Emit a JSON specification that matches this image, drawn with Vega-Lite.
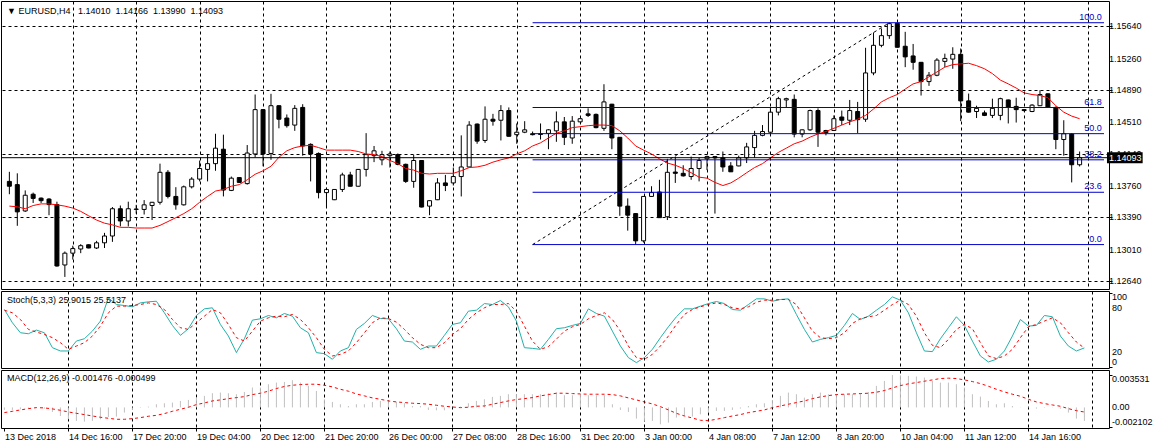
{
"$schema":"https://vega.github.io/schema/vega-lite/v6.json",
"padding":0,
"background":"#ffffff",
"spacing":2,
"bounds":"flush",
"config":{"view":{"stroke":"#000000","strokeWidth":1},"font":"Liberation Sans","axis":{"labelFont":"Liberation Sans","labelFontSize":9,"labelColor":"#000000","tickColor":"#000000","domain":false},"text":{"font":"Liberation Sans","fontSize":9},"title":{"font":"Liberation Sans","fontSize":9,"fontWeight":"normal","color":"#000000","anchor":"start","frame":"group"}},
"datasets":{
"fib":[{"level":"100.0","p":1.15682},{"level":"61.8","p":1.14684},{"level":"50.0","p":1.14376},{"level":"38.2","p":1.14068},{"level":"23.6","p":1.13686},{"level":"0.0","p":1.13070}],
"trend":[{"i":66,"p":1.13070},{"i":111,"p":1.15682}],
"last":[{"p":1.14093}],
"pricelab":[{"v":1.1264},{"v":1.1301},{"v":1.1339},{"v":1.1376},{"v":1.1414},{"v":1.1451},{"v":1.1489},{"v":1.1526},{"v":1.1564}],
"stochlab":[{"v":0},{"v":20},{"v":80},{"v":100}],
"macdlab":[{"v":-0.002102,"t":"-0.002102"},{"v":0,"t":"0.00"},{"v":0.003531,"t":"0.003531"}],
"bars":[
{"i":0,"o":1.13814,"h":1.13927,"l":1.13663,"c":1.13757,"ma":1.13523,"k":77.3,"d":76.4,"m":-0.00027,"s":-0.00056},
{"i":1,"o":1.13776,"h":1.13909,"l":1.13291,"c":1.13455,"ma":1.13515,"k":59.6,"d":72.9,"m":-0.00027,"s":-0.00042},
{"i":2,"o":1.13466,"h":1.13708,"l":1.13455,"c":1.13651,"ma":1.13492,"k":46.2,"d":64.0,"m":-0.00020,"s":-0.00027},
{"i":3,"o":1.13663,"h":1.13682,"l":1.13560,"c":1.13614,"ma":1.13530,"k":44.9,"d":50.7,"m":-0.00013,"s":-0.00013},
{"i":4,"o":1.13617,"h":1.13625,"l":1.13560,"c":1.13587,"ma":1.13549,"k":49.8,"d":47.1,"m":-0.00005,"s":-0.00002},
{"i":5,"o":1.13606,"h":1.13617,"l":1.13416,"c":1.13541,"ma":1.13549,"k":46.2,"d":44.0,"m":-0.00013,"s":-0.00005},
{"i":6,"o":1.13541,"h":1.13575,"l":1.12810,"c":1.12818,"ma":1.13538,"k":26.2,"d":39.6,"m":-0.00049,"s":-0.00016},
{"i":7,"o":1.12830,"h":1.12989,"l":1.12689,"c":1.12969,"ma":1.13523,"k":21.8,"d":32.9,"m":-0.00093,"s":-0.00031},
{"i":8,"o":1.12969,"h":1.13057,"l":1.12893,"c":1.13023,"ma":1.13500,"k":21.8,"d":24.0,"m":-0.00129,"s":-0.00049},
{"i":9,"o":1.13018,"h":1.13075,"l":1.12969,"c":1.13057,"ma":1.13461,"k":35.1,"d":28.4,"m":-0.00147,"s":-0.00064},
{"i":10,"o":1.13068,"h":1.13072,"l":1.13026,"c":1.13030,"ma":1.13409,"k":38.2,"d":32.9,"m":-0.00155,"s":-0.00078},
{"i":11,"o":1.13030,"h":1.13114,"l":1.13018,"c":1.13091,"ma":1.13359,"k":48.4,"d":41.8,"m":-0.00147,"s":-0.00093},
{"i":12,"o":1.13091,"h":1.13208,"l":1.13030,"c":1.13171,"ma":1.13322,"k":61.8,"d":55.1,"m":-0.00129,"s":-0.00107},
{"i":13,"o":1.13171,"h":1.13512,"l":1.13102,"c":1.13492,"ma":1.13302,"k":92.9,"d":72.9,"m":-0.00104,"s":-0.00118},
{"i":14,"o":1.13492,"h":1.13530,"l":1.13284,"c":1.13348,"ma":1.13273,"k":84.0,"d":81.8,"m":-0.00100,"s":-0.00129},
{"i":15,"o":1.13348,"h":1.13575,"l":1.13284,"c":1.13492,"ma":1.13273,"k":82.7,"d":81.8,"m":-0.00056,"s":-0.00129},
{"i":16,"o":1.13484,"h":1.13538,"l":1.13435,"c":1.13489,"ma":1.13265,"k":80.9,"d":82.7,"m":-0.00027,"s":-0.00122},
{"i":17,"o":1.13484,"h":1.13594,"l":1.13424,"c":1.13538,"ma":1.13265,"k":86.2,"d":84.0,"m":-0.00005,"s":-0.00111},
{"i":18,"o":1.13530,"h":1.13572,"l":1.13359,"c":1.13568,"ma":1.13265,"k":87.6,"d":86.2,"m":0.00009,"s":-0.00096},
{"i":19,"o":1.13568,"h":1.14023,"l":1.13541,"c":1.13921,"ma":1.13296,"k":88.4,"d":84.0,"m":0.00035,"s":-0.00086},
{"i":20,"o":1.13921,"h":1.13947,"l":1.13614,"c":1.13637,"ma":1.13341,"k":72.9,"d":77.3,"m":0.00046,"s":-0.00067},
{"i":21,"o":1.13637,"h":1.13746,"l":1.13481,"c":1.13538,"ma":1.13387,"k":56.0,"d":64.0,"m":0.00053,"s":-0.00042},
{"i":22,"o":1.13538,"h":1.13765,"l":1.13530,"c":1.13750,"ma":1.13435,"k":42.7,"d":52.9,"m":0.00071,"s":-0.00020},
{"i":23,"o":1.13750,"h":1.13864,"l":1.13731,"c":1.13841,"ma":1.13492,"k":51.6,"d":50.7,"m":0.00082,"s":0.00002},
{"i":24,"o":1.13841,"h":1.14060,"l":1.13814,"c":1.13966,"ma":1.13568,"k":69.3,"d":59.6,"m":0.00107,"s":0.00031},
{"i":25,"o":1.13955,"h":1.14137,"l":1.13814,"c":1.14023,"ma":1.13637,"k":78.2,"d":68.4,"m":0.00126,"s":0.00049},
{"i":26,"o":1.14023,"h":1.14375,"l":1.13939,"c":1.14205,"ma":1.13700,"k":79.6,"d":77.3,"m":0.00155,"s":0.00071},
{"i":27,"o":1.14193,"h":1.14364,"l":1.13637,"c":1.13712,"ma":1.13719,"k":57.3,"d":72.9,"m":0.00162,"s":0.00082},
{"i":28,"o":1.13708,"h":1.13871,"l":1.13700,"c":1.13852,"ma":1.13757,"k":41.8,"d":57.3,"m":0.00155,"s":0.00096},
{"i":29,"o":1.13859,"h":1.13862,"l":1.13796,"c":1.13802,"ma":1.13776,"k":19.6,"d":39.6,"m":0.00144,"s":0.00107},
{"i":30,"o":1.13788,"h":1.14242,"l":1.13776,"c":1.14148,"ma":1.13833,"k":38.2,"d":35.1,"m":0.00169,"s":0.00118},
{"i":31,"o":1.14137,"h":1.14837,"l":1.14098,"c":1.14659,"ma":1.13898,"k":63.1,"d":48.4,"m":0.00217,"s":0.00140},
{"i":32,"o":1.14659,"h":1.14665,"l":1.13992,"c":1.14137,"ma":1.13939,"k":64.9,"d":61.8,"m":0.00217,"s":0.00155},
{"i":33,"o":1.14143,"h":1.14845,"l":1.14068,"c":1.14705,"ma":1.13992,"k":69.3,"d":66.2,"m":0.00253,"s":0.00177},
{"i":34,"o":1.14705,"h":1.14710,"l":1.14439,"c":1.14546,"ma":1.14098,"k":66.2,"d":68.4,"m":0.00271,"s":0.00206},
{"i":35,"o":1.14560,"h":1.14602,"l":1.14447,"c":1.14470,"ma":1.14174,"k":72.0,"d":67.6,"m":0.00278,"s":0.00228},
{"i":36,"o":1.14477,"h":1.14712,"l":1.14409,"c":1.14674,"ma":1.14212,"k":68.4,"d":70.7,"m":0.00297,"s":0.00242},
{"i":37,"o":1.14685,"h":1.14723,"l":1.14117,"c":1.14231,"ma":1.14231,"k":52.9,"d":64.0,"m":0.00271,"s":0.00249},
{"i":38,"o":1.14250,"h":1.14262,"l":1.13814,"c":1.14137,"ma":1.14239,"k":46.2,"d":52.9,"m":0.00235,"s":0.00253},
{"i":39,"o":1.14143,"h":1.14155,"l":1.13614,"c":1.13682,"ma":1.14212,"k":19.6,"d":39.6,"m":0.00180,"s":0.00253},
{"i":40,"o":1.13682,"h":1.13739,"l":1.13512,"c":1.13719,"ma":1.14182,"k":18.2,"d":24.0,"m":0.00089,"s":0.00242},
{"i":41,"o":1.13598,"h":1.13722,"l":1.13594,"c":1.13719,"ma":1.14182,"k":10.7,"d":15.1,"m":0.00060,"s":0.00224},
{"i":42,"o":1.13719,"h":1.13916,"l":1.13689,"c":1.13890,"ma":1.14182,"k":21.8,"d":17.3,"m":0.00035,"s":0.00198},
{"i":43,"o":1.13890,"h":1.13927,"l":1.13754,"c":1.13757,"ma":1.14182,"k":26.2,"d":21.8,"m":0.00016,"s":0.00177},
{"i":44,"o":1.13757,"h":1.13958,"l":1.13754,"c":1.13955,"ma":1.14166,"k":50.7,"d":32.9,"m":0.00035,"s":0.00147},
{"i":45,"o":1.13955,"h":1.14382,"l":1.13871,"c":1.14129,"ma":1.14137,"k":58.7,"d":46.2,"m":0.00035,"s":0.00126},
{"i":46,"o":1.14117,"h":1.14231,"l":1.14041,"c":1.14174,"ma":1.14129,"k":69.3,"d":59.6,"m":0.00060,"s":0.00104},
{"i":47,"o":1.14068,"h":1.14174,"l":1.14004,"c":1.14129,"ma":1.14106,"k":65.3,"d":66.2,"m":0.00071,"s":0.00089},
{"i":48,"o":1.14117,"h":1.14166,"l":1.13977,"c":1.14137,"ma":1.14060,"k":64.9,"d":65.3,"m":0.00071,"s":0.00071},
{"i":49,"o":1.14129,"h":1.14143,"l":1.14004,"c":1.14015,"ma":1.14023,"k":51.6,"d":60.4,"m":0.00060,"s":0.00060},
{"i":50,"o":1.14015,"h":1.14023,"l":1.13796,"c":1.13814,"ma":1.13966,"k":35.1,"d":50.7,"m":0.00046,"s":0.00053},
{"i":51,"o":1.13814,"h":1.14129,"l":1.13739,"c":1.14060,"ma":1.13947,"k":33.8,"d":39.6,"m":0.00016,"s":0.00046},
{"i":52,"o":1.14060,"h":1.14064,"l":1.13508,"c":1.13512,"ma":1.13909,"k":24.0,"d":30.7,"m":0.00016,"s":0.00042},
{"i":53,"o":1.13523,"h":1.13590,"l":1.13416,"c":1.13587,"ma":1.13901,"k":28.4,"d":26.2,"m":-0.00027,"s":0.00035},
{"i":54,"o":1.13598,"h":1.13852,"l":1.13594,"c":1.13796,"ma":1.13909,"k":28.4,"d":26.2,"m":-0.00031,"s":0.00024},
{"i":55,"o":1.13796,"h":1.13890,"l":1.13700,"c":1.13765,"ma":1.13909,"k":42.7,"d":32.9,"m":-0.00031,"s":0.00013},
{"i":56,"o":1.13796,"h":1.13977,"l":1.13765,"c":1.13871,"ma":1.13909,"k":57.3,"d":44.0,"m":-0.00002,"s":0.00005},
{"i":57,"o":1.13871,"h":1.14356,"l":1.13637,"c":1.13984,"ma":1.13939,"k":59.6,"d":51.6,"m":0.00009,"s":-0.00002},
{"i":58,"o":1.13984,"h":1.14523,"l":1.13980,"c":1.14477,"ma":1.13977,"k":75.1,"d":64.0,"m":0.00046,"s":0.00002},
{"i":59,"o":1.14489,"h":1.14496,"l":1.14257,"c":1.14288,"ma":1.13984,"k":76.4,"d":72.9,"m":0.00071,"s":0.00013},
{"i":60,"o":1.14296,"h":1.14697,"l":1.14268,"c":1.14546,"ma":1.14004,"k":85.3,"d":79.6,"m":0.00089,"s":0.00016},
{"i":61,"o":1.14546,"h":1.14609,"l":1.14470,"c":1.14523,"ma":1.14041,"k":84.0,"d":84.0,"m":0.00115,"s":0.00035},
{"i":62,"o":1.14534,"h":1.14712,"l":1.14296,"c":1.14648,"ma":1.14068,"k":89.3,"d":84.0,"m":0.00126,"s":0.00053},
{"i":63,"o":1.14648,"h":1.14685,"l":1.14341,"c":1.14345,"ma":1.14091,"k":80.9,"d":85.3,"m":0.00144,"s":0.00071},
{"i":64,"o":1.14364,"h":1.14496,"l":1.14257,"c":1.14393,"ma":1.14137,"k":61.8,"d":75.1,"m":0.00144,"s":0.00086},
{"i":65,"o":1.14393,"h":1.14523,"l":1.14382,"c":1.14421,"ma":1.14174,"k":26.2,"d":55.1,"m":0.00144,"s":0.00096},
{"i":66,"o":1.14375,"h":1.14401,"l":1.14356,"c":1.14364,"ma":1.14231,"k":25.3,"d":35.1,"m":0.00144,"s":0.00107},
{"i":67,"o":1.14375,"h":1.14496,"l":1.14307,"c":1.14367,"ma":1.14268,"k":24.0,"d":24.0,"m":0.00144,"s":0.00126},
{"i":68,"o":1.14379,"h":1.14430,"l":1.14193,"c":1.14421,"ma":1.14325,"k":37.3,"d":27.6,"m":0.00155,"s":0.00140},
{"i":69,"o":1.14409,"h":1.14637,"l":1.14280,"c":1.14515,"ma":1.14382,"k":51.6,"d":37.6,"m":0.00162,"s":0.00155},
{"i":70,"o":1.14515,"h":1.14572,"l":1.14242,"c":1.14333,"ma":1.14409,"k":52.9,"d":48.4,"m":0.00133,"s":0.00155},
{"i":71,"o":1.14325,"h":1.14583,"l":1.14257,"c":1.14523,"ma":1.14447,"k":56.0,"d":54.2,"m":0.00133,"s":0.00151},
{"i":72,"o":1.14515,"h":1.14556,"l":1.14512,"c":1.14552,"ma":1.14458,"k":58.7,"d":57.3,"m":0.00144,"s":0.00147},
{"i":73,"o":1.14609,"h":1.14674,"l":1.14572,"c":1.14591,"ma":1.14470,"k":78.2,"d":64.9,"m":0.00133,"s":0.00144},
{"i":74,"o":1.14603,"h":1.14613,"l":1.14439,"c":1.14447,"ma":1.14477,"k":72.0,"d":69.3,"m":0.00133,"s":0.00144},
{"i":75,"o":1.14439,"h":1.14958,"l":1.14409,"c":1.14750,"ma":1.14477,"k":68.4,"d":72.9,"m":0.00133,"s":0.00144},
{"i":76,"o":1.14723,"h":1.14727,"l":1.14193,"c":1.14325,"ma":1.14470,"k":48.4,"d":64.0,"m":0.00035,"s":0.00140},
{"i":77,"o":1.14333,"h":1.14337,"l":1.13409,"c":1.13523,"ma":1.14409,"k":28.4,"d":48.4,"m":-0.00027,"s":0.00126},
{"i":78,"o":1.13523,"h":1.13614,"l":1.13234,"c":1.13416,"ma":1.14325,"k":12.9,"d":28.4,"m":-0.00049,"s":0.00104},
{"i":79,"o":1.13435,"h":1.13438,"l":1.13070,"c":1.13114,"ma":1.14231,"k":6.2,"d":12.9,"m":-0.00122,"s":0.00082},
{"i":80,"o":1.13114,"h":1.13640,"l":1.13094,"c":1.13637,"ma":1.14182,"k":12.9,"d":10.7,"m":-0.00147,"s":0.00060},
{"i":81,"o":1.13637,"h":1.13757,"l":1.13634,"c":1.13682,"ma":1.14137,"k":24.0,"d":17.3,"m":-0.00147,"s":0.00038},
{"i":82,"o":1.13689,"h":1.13833,"l":1.13383,"c":1.13387,"ma":1.14080,"k":39.6,"d":28.4,"m":-0.00184,"s":0.00009},
{"i":83,"o":1.13398,"h":1.14080,"l":1.13359,"c":1.13921,"ma":1.14030,"k":54.2,"d":41.8,"m":-0.00166,"s":-0.00027},
{"i":84,"o":1.13924,"h":1.14106,"l":1.13796,"c":1.13909,"ma":1.14004,"k":67.6,"d":57.3,"m":-0.00111,"s":-0.00064},
{"i":85,"o":1.13909,"h":1.14004,"l":1.13871,"c":1.13879,"ma":1.13966,"k":78.2,"d":70.7,"m":-0.00093,"s":-0.00093},
{"i":86,"o":1.13871,"h":1.14106,"l":1.13833,"c":1.13966,"ma":1.13916,"k":78.2,"d":77.3,"m":-0.00100,"s":-0.00115},
{"i":87,"o":1.13966,"h":1.14091,"l":1.13814,"c":1.14060,"ma":1.13864,"k":81.8,"d":80.9,"m":-0.00075,"s":-0.00140},
{"i":88,"o":1.14080,"h":1.14117,"l":1.13947,"c":1.14106,"ma":1.13852,"k":85.3,"d":84.0,"m":-0.00049,"s":-0.00144},
{"i":89,"o":1.14106,"h":1.14110,"l":1.13435,"c":1.14091,"ma":1.13802,"k":88.0,"d":86.2,"m":-0.00038,"s":-0.00129},
{"i":90,"o":1.14091,"h":1.14166,"l":1.13927,"c":1.13984,"ma":1.13765,"k":85.3,"d":84.0,"m":-0.00038,"s":-0.00111},
{"i":91,"o":1.13996,"h":1.14041,"l":1.13924,"c":1.13927,"ma":1.13796,"k":77.3,"d":79.6,"m":-0.00027,"s":-0.00093},
{"i":92,"o":1.13996,"h":1.14117,"l":1.13992,"c":1.14091,"ma":1.13852,"k":76.4,"d":78.2,"m":-0.00013,"s":-0.00078},
{"i":93,"o":1.14091,"h":1.14268,"l":1.14030,"c":1.14220,"ma":1.13916,"k":84.0,"d":80.9,"m":0.00016,"s":-0.00056},
{"i":94,"o":1.14212,"h":1.14409,"l":1.14091,"c":1.14356,"ma":1.13977,"k":91.6,"d":87.1,"m":0.00035,"s":-0.00042},
{"i":95,"o":1.14356,"h":1.14477,"l":1.14345,"c":1.14401,"ma":1.14023,"k":91.6,"d":89.8,"m":0.00046,"s":-0.00027},
{"i":96,"o":1.14393,"h":1.14685,"l":1.14364,"c":1.14629,"ma":1.14091,"k":88.4,"d":89.8,"m":0.00082,"s":-0.00002},
{"i":97,"o":1.14629,"h":1.14810,"l":1.14591,"c":1.14788,"ma":1.14155,"k":90.7,"d":90.7,"m":0.00126,"s":0.00016},
{"i":98,"o":1.14773,"h":1.14799,"l":1.14685,"c":1.14788,"ma":1.14205,"k":91.6,"d":90.7,"m":0.00162,"s":0.00035},
{"i":99,"o":1.14780,"h":1.14837,"l":1.14333,"c":1.14371,"ma":1.14257,"k":70.7,"d":84.0,"m":0.00144,"s":0.00053},
{"i":100,"o":1.14371,"h":1.14425,"l":1.14333,"c":1.14421,"ma":1.14288,"k":50.7,"d":66.2,"m":0.00107,"s":0.00071},
{"i":101,"o":1.14421,"h":1.14659,"l":1.14409,"c":1.14648,"ma":1.14335,"k":33.8,"d":48.4,"m":0.00144,"s":0.00096},
{"i":102,"o":1.14648,"h":1.14674,"l":1.14220,"c":1.14393,"ma":1.14373,"k":37.3,"d":39.6,"m":0.00162,"s":0.00115},
{"i":103,"o":1.14413,"h":1.14421,"l":1.14356,"c":1.14387,"ma":1.14401,"k":39.6,"d":38.2,"m":0.00144,"s":0.00129},
{"i":104,"o":1.14413,"h":1.14591,"l":1.14410,"c":1.14552,"ma":1.14439,"k":42.7,"d":39.6,"m":0.00144,"s":0.00140},
{"i":105,"o":1.14572,"h":1.14648,"l":1.14477,"c":1.14534,"ma":1.14477,"k":56.0,"d":46.2,"m":0.00144,"s":0.00144},
{"i":106,"o":1.14534,"h":1.14773,"l":1.14477,"c":1.14648,"ma":1.14515,"k":72.0,"d":58.7,"m":0.00144,"s":0.00147},
{"i":107,"o":1.14637,"h":1.14750,"l":1.14382,"c":1.14541,"ma":1.14546,"k":64.0,"d":64.9,"m":0.00155,"s":0.00151},
{"i":108,"o":1.14546,"h":1.15387,"l":1.14515,"c":1.15091,"ma":1.14591,"k":68.4,"d":67.6,"m":0.00169,"s":0.00155},
{"i":109,"o":1.15091,"h":1.15568,"l":1.15064,"c":1.15416,"ma":1.14666,"k":76.4,"d":69.3,"m":0.00235,"s":0.00166},
{"i":110,"o":1.15416,"h":1.15614,"l":1.15393,"c":1.15530,"ma":1.14750,"k":84.0,"d":76.4,"m":0.00289,"s":0.00184},
{"i":111,"o":1.15530,"h":1.15682,"l":1.15492,"c":1.15671,"ma":1.14799,"k":94.2,"d":84.0,"m":0.003531,"s":0.00213},
{"i":112,"o":1.15675,"h":1.15680,"l":1.15390,"c":1.15393,"ma":1.14837,"k":89.8,"d":89.8,"m":0.00350,"s":0.00238},
{"i":113,"o":1.15405,"h":1.15575,"l":1.15159,"c":1.15280,"ma":1.14901,"k":72.9,"d":84.0,"m":0.00344,"s":0.00257},
{"i":114,"o":1.15291,"h":1.15432,"l":1.15129,"c":1.15216,"ma":1.14962,"k":46.2,"d":68.4,"m":0.00337,"s":0.00271},
{"i":115,"o":1.15216,"h":1.15220,"l":1.14825,"c":1.14989,"ma":1.14989,"k":21.8,"d":46.2,"m":0.00326,"s":0.00286},
{"i":116,"o":1.14989,"h":1.15102,"l":1.14939,"c":1.15064,"ma":1.15046,"k":20.9,"d":29.3,"m":0.00289,"s":0.00300},
{"i":117,"o":1.15064,"h":1.15265,"l":1.15052,"c":1.15242,"ma":1.15102,"k":38.2,"d":26.2,"m":0.00271,"s":0.00315},
{"i":118,"o":1.15227,"h":1.15318,"l":1.15159,"c":1.15262,"ma":1.15159,"k":52.9,"d":37.3,"m":0.00271,"s":0.00319},
{"i":119,"o":1.15254,"h":1.15393,"l":1.15140,"c":1.15310,"ma":1.15189,"k":67.6,"d":50.7,"m":0.00253,"s":0.00315},
{"i":120,"o":1.15310,"h":1.15379,"l":1.14523,"c":1.14762,"ma":1.15197,"k":56.0,"d":57.3,"m":0.00217,"s":0.00300},
{"i":121,"o":1.14762,"h":1.14848,"l":1.14625,"c":1.14629,"ma":1.15205,"k":35.1,"d":51.6,"m":0.00144,"s":0.00282},
{"i":122,"o":1.14637,"h":1.14705,"l":1.14560,"c":1.14674,"ma":1.15177,"k":15.1,"d":32.9,"m":0.00118,"s":0.00260},
{"i":123,"o":1.14621,"h":1.14648,"l":1.14583,"c":1.14591,"ma":1.15140,"k":7.1,"d":15.1,"m":0.00071,"s":0.00231},
{"i":124,"o":1.14591,"h":1.14788,"l":1.14560,"c":1.14674,"ma":1.15083,"k":10.7,"d":11.6,"m":0.00035,"s":0.00198},
{"i":125,"o":1.14591,"h":1.14799,"l":1.14534,"c":1.14788,"ma":1.15007,"k":21.8,"d":15.1,"m":0.00046,"s":0.00169},
{"i":126,"o":1.14773,"h":1.14777,"l":1.14496,"c":1.14685,"ma":1.14962,"k":41.8,"d":24.0,"m":0.00016,"s":0.00144},
{"i":127,"o":1.14697,"h":1.14799,"l":1.14507,"c":1.14659,"ma":1.14913,"k":64.0,"d":39.6,"m":-0.00002,"s":0.00122},
{"i":128,"o":1.14659,"h":1.14663,"l":1.14637,"c":1.14648,"ma":1.14856,"k":55.1,"d":54.2,"m":0.00009,"s":0.00089},
{"i":129,"o":1.14637,"h":1.14723,"l":1.14629,"c":1.14712,"ma":1.14837,"k":56.0,"d":57.3,"m":-0.00013,"s":0.00060},
{"i":130,"o":1.14705,"h":1.14887,"l":1.14701,"c":1.14837,"ma":1.14825,"k":69.3,"d":61.8,"m":-0.00005,"s":0.00042},
{"i":131,"o":1.14845,"h":1.14849,"l":1.14681,"c":1.14685,"ma":1.14799,"k":67.6,"d":66.2,"m":-0.00002,"s":0.00027},
{"i":132,"o":1.14685,"h":1.14697,"l":1.14193,"c":1.14307,"ma":1.14705,"k":41.8,"d":59.6,"m":-0.00013,"s":0.00013},
{"i":133,"o":1.14307,"h":1.14534,"l":1.14117,"c":1.14375,"ma":1.14629,"k":28.4,"d":46.2,"m":-0.00056,"s":-0.00013},
{"i":134,"o":1.14371,"h":1.14382,"l":1.13802,"c":1.14010,"ma":1.14583,"k":21.8,"d":33.8,"m":-0.00122,"s":-0.00035},
{"i":135,"o":1.14010,"h":1.14166,"l":1.13990,"c":1.14093,"ma":1.14552,"k":25.9015,"d":25.5137,"m":-0.001476,"s":-0.000499}
]},
"vconcat":[
{"width":1108,"height":288,
"title":{"text":"▼ EURUSD,H4\u00a0\u00a0 1.14010\u00a0 1.14166\u00a0 1.13990\u00a0 1.14093","offset":-15,"dx":6},
"layer":[
{"data":{"name":"bars"},"mark":{"type":"rule","color":"#000000","strokeWidth":1},
"encoding":{
"x":{"field":"i","type":"quantitative","scale":{"domain":[-0.425,138.075],"nice":false,"zero":false},
"axis":{"values":[0,4,8,12,16,20,24,28,32,36,40,44,48,52,56,60,64,68,72,76,80,84,88,92,96,100,104,108,112,116,120,124,128,132,136],"grid":true,"gridColor":{"condition":{"test":"datum.value == 0","value":"rgba(0,0,0,0)"},"value":"#000000"},"gridDash":[3,3],"labels":false,"ticks":false,"domain":false,"title":null}},
"y":{"field":"l","type":"quantitative","scale":{"domain":[1.12606,1.15879],"nice":false,"zero":false},
"axis":{"orient":"right","values":[1.1264,1.1301,1.1339,1.1376,1.1414,1.1451,1.1489,1.1526,1.1564],"labels":false,"grid":true,"gridColor":"#000000","gridDash":[3,3],"tickSize":3,"domain":false,"title":null}},
"y2":{"field":"h"}}},
{"data":{"name":"bars"},"mark":{"type":"bar","size":4,"stroke":"#000000","strokeWidth":1},
"encoding":{"x":{"field":"i","type":"quantitative"},"y":{"field":"o","type":"quantitative"},"y2":{"field":"c"},
"fill":{"condition":{"test":"datum.c >= datum.o","value":"#ffffff"},"value":"#000000"}}},
{"data":{"name":"bars"},"mark":{"type":"line","color":"#ff0000","strokeWidth":1},
"encoding":{"x":{"field":"i","type":"quantitative"},"y":{"field":"ma","type":"quantitative"}}},
{"data":{"name":"fib"},"mark":{"type":"rule","color":"#0000cc","strokeWidth":1},
"encoding":{"x":{"datum":66},"x2":{"datum":138.075},"y":{"field":"p","type":"quantitative"}}},
{"data":{"name":"fib"},"mark":{"type":"text","color":"#0000cc","align":"right","baseline":"bottom","dy":-1,"fontSize":9},
"encoding":{"x":{"datum":137.8},"y":{"field":"p","type":"quantitative"},"text":{"field":"level"}}},
{"data":{"name":"trend"},"mark":{"type":"line","color":"#000000","strokeWidth":1,"strokeDash":[3,3]},
"encoding":{"x":{"field":"i","type":"quantitative"},"y":{"field":"p","type":"quantitative"}}},
{"data":{"name":"last"},"mark":{"type":"rule","color":"#000000","strokeWidth":1},
"encoding":{"y":{"field":"p","type":"quantitative"}}},
{"data":{"name":"pricelab"},"mark":{"type":"text","color":"#000000","align":"left","baseline":"middle","fontSize":9},
"encoding":{"x":{"datum":138.7},"y":{"field":"v","type":"quantitative"},"text":{"field":"v","type":"quantitative","format":".5f"}}},
{"data":{"name":"last"},"mark":{"type":"bar","orient":"horizontal","size":11,"color":"#000000","clip":false},
"encoding":{"x":{"datum":138.45},"x2":{"datum":142.95},"y":{"field":"p","type":"quantitative"}}},
{"data":{"name":"last"},"mark":{"type":"text","color":"#ffffff","align":"left","baseline":"middle","fontSize":9},
"encoding":{"x":{"datum":138.7},"y":{"field":"p","type":"quantitative"},"text":{"field":"p","type":"quantitative","format":".5f"}}}
]},
{"width":1108,"height":77,
"title":{"text":"Stoch(5,3,3) 25.9015 25.5137","offset":-14,"dx":6},
"layer":[
{"data":{"name":"bars"},"mark":{"type":"line","color":"#20b2aa","strokeWidth":1},
"encoding":{
"x":{"field":"i","type":"quantitative","scale":{"domain":[-0.425,138.075],"nice":false,"zero":false},
"axis":{"values":[0,4,8,12,16,20,24,28,32,36,40,44,48,52,56,60,64,68,72,76,80,84,88,92,96,100,104,108,112,116,120,124,128,132,136],"grid":true,"gridColor":{"condition":{"test":"datum.value == 0","value":"rgba(0,0,0,0)"},"value":"#000000"},"gridDash":[3,3],"labels":false,"ticks":false,"domain":false,"title":null}},
"y":{"field":"k","type":"quantitative","scale":{"domain":[-1,102.1],"nice":false,"zero":false},
"axis":{"orient":"right","values":[0,20,80,100],"labels":false,"grid":true,"gridColor":{"condition":{"test":"datum.value == 20 || datum.value == 80","value":"#c0c0c0"},"value":"rgba(0,0,0,0)"},"gridDash":[3,3],"tickSize":3,"domain":false,"title":null}}}},
{"data":{"name":"bars"},"mark":{"type":"line","color":"#ff0000","strokeWidth":1,"strokeDash":[3,3]},
"encoding":{"x":{"field":"i","type":"quantitative"},"y":{"field":"d","type":"quantitative"}}},
{"data":{"name":"stochlab"},"transform":[{"filter":"datum.v == 20 || datum.v == 80"}],"mark":{"type":"text","color":"#000000","align":"left","baseline":"middle","fontSize":9},
"encoding":{"x":{"datum":138.45},"y":{"field":"v","type":"quantitative"},"text":{"field":"v","type":"quantitative"}}},
{"data":{"name":"stochlab"},"transform":[{"filter":"datum.v == 100"}],"mark":{"type":"text","color":"#000000","align":"left","baseline":"top","fontSize":9},
"encoding":{"x":{"datum":138.45},"y":{"field":"v","type":"quantitative"},"text":{"field":"v","type":"quantitative"}}},
{"data":{"name":"stochlab"},"transform":[{"filter":"datum.v == 0"}],"mark":{"type":"text","color":"#000000","align":"left","baseline":"bottom","fontSize":9},
"encoding":{"x":{"datum":138.45},"y":{"field":"v","type":"quantitative"},"text":{"field":"v","type":"quantitative"}}}
]},
{"width":1108,"height":58,
"title":{"text":"MACD(12,26,9) -0.001476 -0.000499","offset":-13,"dx":6},
"layer":[
{"data":{"name":"bars"},"mark":{"type":"rule","color":"#c0c0c0","strokeWidth":1},
"encoding":{
"x":{"field":"i","type":"quantitative","scale":{"domain":[-0.425,138.075],"nice":false,"zero":false},
"axis":{"values":[0,4,8,12,16,20,24,28,32,36,40,44,48,52,56,60,64,68,72,76,80,84,88,92,96,100,104,108,112,116,120,124,128,132,136],"grid":true,"gridColor":{"condition":{"test":"datum.value == 0","value":"rgba(0,0,0,0)"},"value":"#000000"},"gridDash":[3,3],"tickSize":3,"tickOpacity":{"condition":{"test":"datum.value % 8 == 0 && datum.value <= 128","value":1},"value":0},"labelExpr":"datum.value % 8 == 0 && datum.value <= 128 ? ['13 Dec 2018','14 Dec 16:00','17 Dec 20:00','19 Dec 04:00','20 Dec 12:00','21 Dec 20:00','26 Dec 00:00','27 Dec 08:00','28 Dec 16:00','31 Dec 20:00','3 Jan 00:00','4 Jan 08:00','7 Jan 12:00','8 Jan 20:00','10 Jan 04:00','11 Jan 12:00','14 Jan 16:00'][datum.value / 8] : ''","labelAlign":"left","labelPadding":1,"labelFlush":false,"labelOverlap":false,"labelBound":false,"domain":false,"title":null}},
"y":{"field":"m","type":"quantitative","scale":{"domain":[-0.00224,0.00408],"nice":false,"zero":false},
"axis":{"orient":"right","values":[-0.002102,0,0.003531],"labels":false,"grid":true,"gridColor":{"condition":{"test":"datum.value == 0","value":"#000000"},"value":"rgba(0,0,0,0)"},"gridDash":[3,3],"tickSize":3,"domain":false,"title":null}},
"y2":{"datum":0}}},
{"data":{"name":"bars"},"mark":{"type":"line","color":"#ff0000","strokeWidth":1,"strokeDash":[3,3]},
"encoding":{"x":{"field":"i","type":"quantitative"},"y":{"field":"s","type":"quantitative"}}},
{"data":{"name":"macdlab"},"transform":[{"filter":"datum.v == 0"}],"mark":{"type":"text","color":"#000000","align":"left","baseline":"middle","fontSize":9},
"encoding":{"x":{"datum":138.45},"y":{"field":"v","type":"quantitative"},"text":{"field":"t"}}},
{"data":{"name":"macdlab"},"transform":[{"filter":"datum.v > 0"}],"mark":{"type":"text","color":"#000000","align":"left","baseline":"top","fontSize":9},
"encoding":{"x":{"datum":138.45},"y":{"field":"v","type":"quantitative"},"text":{"field":"t"}}},
{"data":{"name":"macdlab"},"transform":[{"filter":"datum.v < 0"}],"mark":{"type":"text","color":"#000000","align":"left","baseline":"bottom","fontSize":9},
"encoding":{"x":{"datum":138.45},"y":{"field":"v","type":"quantitative"},"text":{"field":"t"}}}
]}
]
}
